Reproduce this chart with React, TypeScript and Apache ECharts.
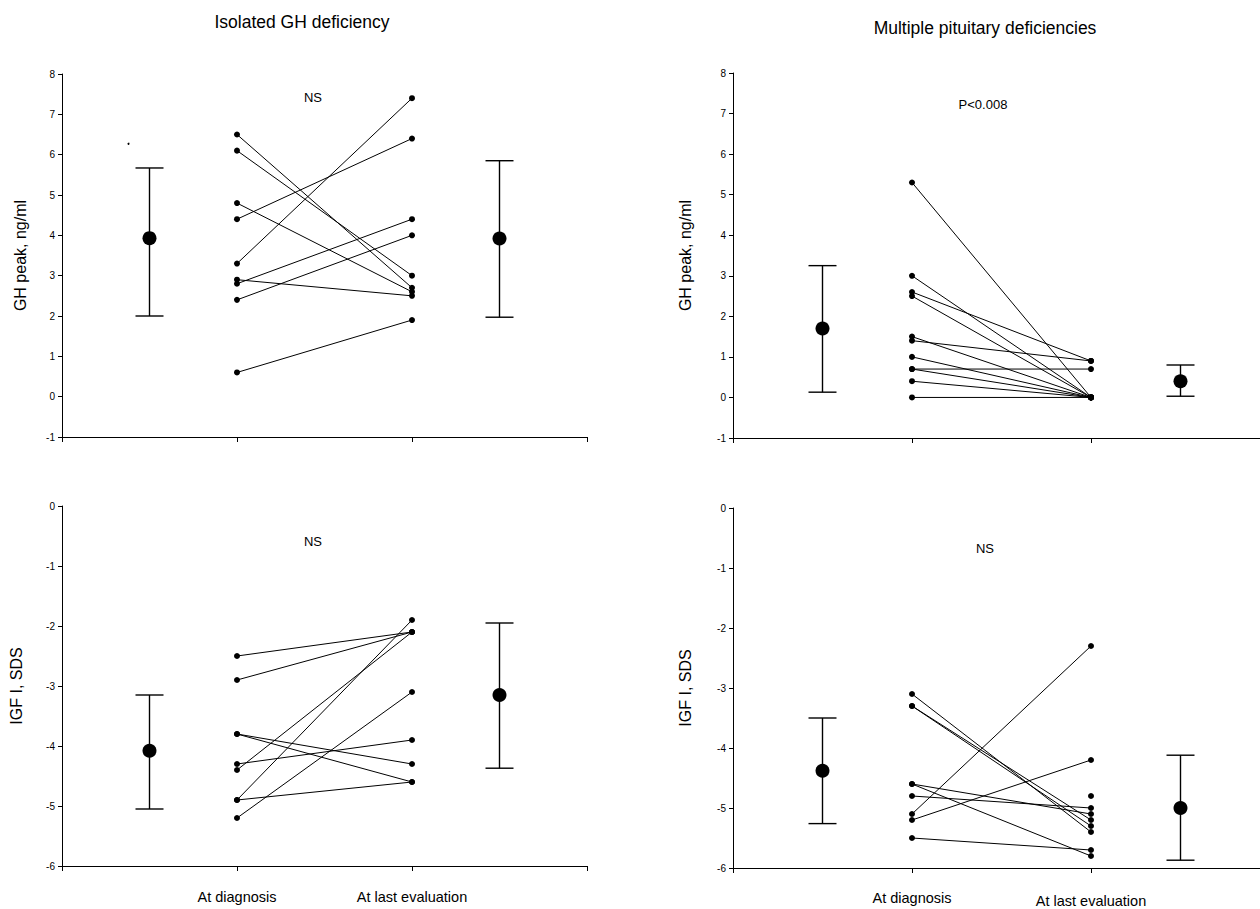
import React, { useEffect, useRef } from "react";
import * as echarts from "echarts";

// ---- Data ----
const xTickLabels = ["", "At diagnosis", "At last evaluation", ""];
const summaryX = [0.5, 2.5];

// Panel A: GH peak, isolated GH deficiency
const ghIsoDiag = [6.5, 6.1, 4.8, 4.4, 3.3, 2.9, 2.8, 2.4, 0.6];
const ghIsoLast = [2.7, 3.0, 2.6, 6.4, 7.4, 2.5, 4.4, 4.0, 1.9];
const ghIsoMean = [3.93, 3.92];
const ghIsoLow = [2.0, 1.97];
const ghIsoHigh = [5.67, 5.85];
const ghIsoStray = [[0.38, 6.27]];

// Panel B: GH peak, multiple pituitary deficiencies
const ghMultDiag = [5.3, 3.0, 2.6, 2.5, 1.5, 1.4, 1.0, 0.7, 0.7, 0.4, 0.0];
const ghMultLast = [0.0, 0.0, 0.9, 0.0, 0.0, 0.9, 0.0, 0.7, 0.0, 0.0, 0.0];
const ghMultMean = [1.7, 0.4];
const ghMultLow = [0.13, 0.03];
const ghMultHigh = [3.25, 0.8];

// Panel C: IGF I SDS, isolated GH deficiency
const igfIsoDiag = [-2.5, -2.9, -3.8, -3.8, -4.3, -4.4, -4.9, -4.9, -5.2];
const igfIsoLast = [-2.1, -2.1, -4.3, -4.6, -3.9, -2.1, -1.9, -4.6, -3.1];
const igfIsoMean = [-4.08, -3.15];
const igfIsoLow = [-5.05, -4.37];
const igfIsoHigh = [-3.15, -1.95];

// Panel D: IGF I SDS, multiple pituitary deficiencies
const igfMultDiag = [-3.1, -3.3, -3.3, -4.6, -4.6, -4.8, -5.1, -5.2, -5.5, null];
const igfMultLast = [-5.4, -5.3, -5.2, -5.1, -5.8, -5.0, -2.3, -4.2, -5.7, -4.8];
const igfMultMean = [-4.38, -5.0];
const igfMultLow = [-5.26, -5.87];
const igfMultHigh = [-3.5, -4.12];

const FONT = "'Liberation Sans', Arial, Helvetica, sans-serif";
const INK = "#000";

function pairSeries(idx: number, diag: (number | null)[], last: number[]) {
  return diag.map((d, i) => ({
    type: "line",
    xAxisIndex: idx,
    yAxisIndex: idx,
    symbol: "circle",
    symbolSize: 6,
    showSymbol: true,
    connectNulls: false,
    lineStyle: { color: INK, width: 1 },
    itemStyle: { color: INK, opacity: 1 },
    silent: true,
    data: [d === null ? [1, null] : [1, d], [2, last[i]]],
    z: 3,
  }));
}

function summarySeries(idx: number, mean: number[], low: number[], high: number[]) {
  return [
    {
      type: "custom",
      xAxisIndex: idx,
      yAxisIndex: idx,
      silent: true,
      encode: { x: 0, y: [1, 2] },
      data: summaryX.map((x, i) => [x, low[i], high[i]]),
      renderItem: (params: any, api: any) => {
        const x = api.value(0);
        const lo = api.coord([x, api.value(1)]);
        const hi = api.coord([x, api.value(2)]);
        const hw = 14;
        const st = { stroke: INK, lineWidth: 1.4 };
        return {
          type: "group",
          children: [
            { type: "line", shape: { x1: lo[0], y1: lo[1], x2: hi[0], y2: hi[1] }, style: st },
            { type: "line", shape: { x1: lo[0] - hw, y1: lo[1], x2: lo[0] + hw, y2: lo[1] }, style: st },
            { type: "line", shape: { x1: hi[0] - hw, y1: hi[1], x2: hi[0] + hw, y2: hi[1] }, style: st },
          ],
        };
      },
      z: 2,
    },
    {
      type: "scatter",
      xAxisIndex: idx,
      yAxisIndex: idx,
      silent: true,
      symbol: "circle",
      symbolSize: 14,
      itemStyle: { color: INK, opacity: 1 },
      data: summaryX.map((x, i) => [x, mean[i]]),
      z: 4,
    },
  ];
}

const grids = [
  { left: 62, top: 74, width: 525, height: 363, outerBoundsMode: "none", containLabel: false },
  { left: 733, top: 73, width: 537, height: 365, outerBoundsMode: "none", containLabel: false },
  { left: 62, top: 506, width: 525, height: 360, outerBoundsMode: "none", containLabel: false },
  { left: 733, top: 508, width: 537, height: 360, outerBoundsMode: "none", containLabel: false },
];

function xAxis(idx: number, showLabels: boolean, margin: number, shiftSecond: number) {
  return {
    type: "value",
    gridIndex: idx,
    min: 0,
    max: 3,
    interval: 1,
    splitLine: { show: false },
    axisLine: { onZero: false, lineStyle: { color: INK, width: 1.2 } },
    axisTick: { show: true, length: 5, lineStyle: { color: INK } },
    axisLabel: {
      show: showLabels,
      margin,
      fontFamily: FONT,
      fontSize: 14.5,
      color: INK,
      formatter: (v: number) => {
        const i = Math.round(v);
        const s = xTickLabels[i] ?? "";
        if (!s) return "";
        return i === 2 ? "{b|" + s + "}" : "{a|" + s + "}";
      },
      rich: {
        a: { fontFamily: FONT, fontSize: 14.5, color: INK },
        b: { fontFamily: FONT, fontSize: 14.5, color: INK, padding: [shiftSecond, 0, 0, 0] },
      },
    },
  };
}

function yAxis(idx: number, min: number, max: number, name: string, gap: number) {
  return {
    type: "value",
    gridIndex: idx,
    min,
    max,
    interval: 1,
    name,
    nameLocation: "middle",
    nameRotate: 90,
    nameGap: gap,
    nameTextStyle: { fontFamily: FONT, fontSize: 16, color: INK },
    splitLine: { show: false },
    axisLine: { onZero: false, lineStyle: { color: INK, width: 1 } },
    axisTick: { show: true, length: 4, lineStyle: { color: INK } },
    axisLabel: { fontFamily: FONT, fontSize: 10, color: INK, margin: 7 },
  };
}

function txt(x: number, y: number, text: string, size: number) {
  return {
    type: "text",
    x,
    y,
    style: {
      text,
      fontFamily: FONT,
      fontSize: size,
      fill: INK,
      textAlign: "center",
      textVerticalAlign: "middle",
    },
    silent: true,
  };
}

export default function App() {
  const ref = useRef<HTMLDivElement>(null);
  useEffect(() => {
    if (!ref.current) return;
    const chart = echarts.init(ref.current, null, { renderer: "svg" });
    chart.setOption({
      animation: false,
      backgroundColor: "#fff",
      grid: grids,
      xAxis: [
        xAxis(0, false, 24, 0),
        xAxis(1, false, 24, 0),
        xAxis(2, true, 23, 0),
        xAxis(3, true, 22, 3),
      ],
      yAxis: [
        yAxis(0, -1, 8, "GH peak, ng/ml", 34),
        yAxis(1, -1, 8, "GH peak, ng/ml", 40),
        yAxis(2, -6, 0, "IGF I, SDS", 38),
        yAxis(3, -6, 0, "IGF I, SDS", 40),
      ],
      graphic: [
        txt(302, 22, "Isolated GH deficiency", 17.5),
        txt(985, 28, "Multiple pituitary deficiencies", 17.5),
        txt(313, 97, "NS", 13),
        txt(983, 104, "P<0.008", 13),
        txt(313, 541, "NS", 13),
        txt(985, 548, "NS", 13),
      ],
      series: [
        ...pairSeries(0, ghIsoDiag, ghIsoLast),
        ...summarySeries(0, ghIsoMean, ghIsoLow, ghIsoHigh),
        {
          type: "scatter",
          xAxisIndex: 0,
          yAxisIndex: 0,
          symbolSize: 2,
          itemStyle: { color: INK, opacity: 1 },
          silent: true,
          data: ghIsoStray,
        },
        ...pairSeries(1, ghMultDiag, ghMultLast),
        ...summarySeries(1, ghMultMean, ghMultLow, ghMultHigh),
        ...pairSeries(2, igfIsoDiag, igfIsoLast),
        ...summarySeries(2, igfIsoMean, igfIsoLow, igfIsoHigh),
        ...pairSeries(3, igfMultDiag, igfMultLast),
        ...summarySeries(3, igfMultMean, igfMultLow, igfMultHigh),
      ],
    });
    return () => chart.dispose();
  }, []);
  return (
    <div
      ref={ref}
      style={{ position: "absolute", left: 0, top: 0, width: 1260, height: 909, background: "#fff" }}
    />
  );
}
